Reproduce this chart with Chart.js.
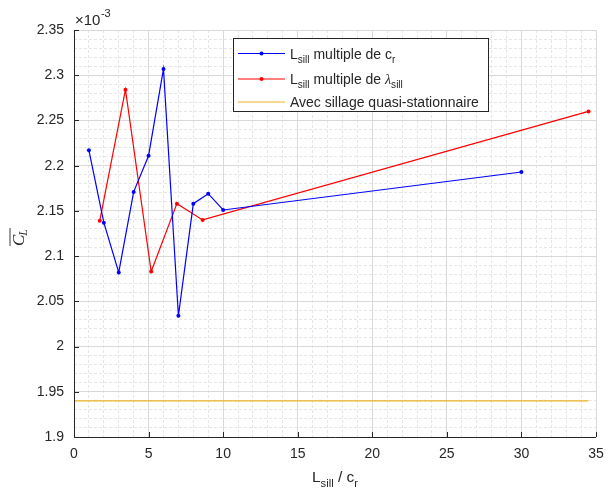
<!DOCTYPE html>
<html>
<head>
<meta charset="utf-8">
<script src="https://cdn.jsdelivr.net/npm/chart.js@4/dist/chart.umd.min.js"></script>
<style>
html,body{margin:0;padding:0;background:#fff;}
#wrap{width:609px;height:497px;position:relative;}
</style>
</head>
<body>
<div id="wrap"><canvas id="c" width="609" height="497"></canvas></div>
<script>
// ---- data (C_L values in units of 1e-3) ----
const xCr = [1, 2, 3, 4, 5, 6, 7, 8, 9, 10, 30];
const clCr = [2.217, 2.137, 2.082, 2.171, 2.211, 2.307, 2.034, 2.158, 2.169, 2.151, 2.193];
const xLambda = [1.725, 3.45, 5.175, 6.9, 8.625, 34.5];
const clLambda = [2.139, 2.284, 2.083, 2.158, 2.140, 2.260];
const xQuasi = [0, 34.5];
const clQuasi = [1.94, 1.94];

const xTicks = [0, 5, 10, 15, 20, 25, 30, 35];
const xTickLabels = ['0', '5', '10', '15', '20', '25', '30', '35'];
const yTicks = [1.9, 1.95, 2.0, 2.05, 2.1, 2.15, 2.2, 2.25, 2.3, 2.35];
const yTickLabels = ['1.9', '1.95', '2', '2.05', '2.1', '2.15', '2.2', '2.25', '2.3', '2.35'];
const xMinorTicks = [...Array(36).keys()];
const yMinorTicks = [...Array(46).keys()].map(i => Math.round((1.9 + i * 0.01) * 1000) / 1000);

const legendLabels = [
  [{t:'L'},{t:'sill',sub:true},{t:' multiple de c'},{t:'r',sub:true}],
  [{t:'L'},{t:'sill',sub:true},{t:' multiple de '},{t:'\u03bb',it:true},{t:'sill',sub:true}],
  [{t:'Avec sillage quasi-stationnaire'}]
];
const xTitle = [{t:'L'},{t:'sill',sub:true},{t:' / c'},{t:'r',sub:true}];

const BLUE = '#0000ff', RED = '#ff0000', ORANGE = '#edb120';
const TXT = '#262626';
const FONT = '"Liberation Sans", Arial, Helvetica, sans-serif';

function toPts(xs, ys){ return xs.map((x,i)=>({x:x, y:ys[i]})); }

function drawRich(ctx, parts, x, y, size, align){
  let w = 0;
  const fonts = parts.map(p=>{
    const s = p.sub ? size*0.72 : size;
    return (p.it ? 'italic ' : '') + s + 'px ' + (p.it ? '"Liberation Serif", "DejaVu Serif", serif' : FONT);
  });
  parts.forEach((p,i)=>{ ctx.font = fonts[i]; w += ctx.measureText(p.t).width; });
  let cx = align === 'center' ? x - w/2 : x;
  ctx.textBaseline = 'alphabetic';
  ctx.textAlign = 'left';
  parts.forEach((p,i)=>{
    ctx.font = fonts[i];
    ctx.fillText(p.t, cx, y + (p.sub ? size*0.32 : 0));
    cx += ctx.measureText(p.t).width;
  });
}

const decor = {
  id:'decor',
  afterDraw(chart){
    const ctx = chart.ctx;
    const xs = chart.scales.x, ys = chart.scales.y;
    const a = chart.chartArea;
    ctx.save();
    // inward ticks
    ctx.strokeStyle = TXT; ctx.lineWidth = 1;
    ctx.beginPath();
    xTicks.forEach(v=>{ const px = Math.round(xs.getPixelForValue(v))+0.5; ctx.moveTo(px, a.bottom); ctx.lineTo(px, a.bottom-5); });
    yTicks.forEach(v=>{ const py = Math.round(ys.getPixelForValue(v))+0.5; ctx.moveTo(a.left, py); ctx.lineTo(a.left+5, py); });
    ctx.stroke();
    // axis lines
    ctx.beginPath();
    ctx.moveTo(a.left+0.5, a.top); ctx.lineTo(a.left+0.5, a.bottom+0.5); ctx.lineTo(a.right, a.bottom+0.5);
    ctx.stroke();

    ctx.fillStyle = TXT;
    // exponent label
    ctx.font = '15px ' + FONT; ctx.textBaseline='alphabetic'; ctx.textAlign='left';
    ctx.fillText('\u00d710', a.left+1, 25);
    const w10 = ctx.measureText('\u00d710').width;
    ctx.font = '11px ' + FONT;
    ctx.fillText('-3', a.left+1+w10+0.5, 17);

    // x title
    drawRich(ctx, xTitle, (a.left+a.right)/2, 482, 15.5, 'center');

    // y title: overline C_L
    ctx.save();
    ctx.translate(24, 236);
    ctx.rotate(-Math.PI/2);
    ctx.font = 'italic 17px "Liberation Serif", "DejaVu Serif", serif';
    ctx.textAlign='left';
    const wc = ctx.measureText('C').width;
    ctx.fillText('C', -10, 0);
    ctx.font = 'italic 12px "Liberation Serif", "DejaVu Serif", serif';
    const wl = ctx.measureText('L').width;
    ctx.fillText('L', -10+wc-1, 3);
    ctx.strokeStyle = TXT; ctx.lineWidth = 0.9;
    ctx.beginPath(); ctx.moveTo(-10, -14); ctx.lineTo(-10+wc-1+wl+1, -14); ctx.stroke();
    ctx.restore();

    // legend
    const L = {x:233.5, y:38.5, w:255, h:73};
    ctx.fillStyle = '#fff'; ctx.fillRect(L.x, L.y, L.w, L.h);
    ctx.strokeStyle = TXT; ctx.lineWidth = 1; ctx.strokeRect(L.x, L.y, L.w, L.h);
    const rows = [53.5, 79, 102];
    const cols = [BLUE, RED, ORANGE];
    rows.forEach((ry,i)=>{
      ctx.strokeStyle = cols[i]; ctx.lineWidth = 1.2;
      ctx.beginPath(); ctx.moveTo(238, ry); ctx.lineTo(285, ry); ctx.stroke();
      if(i<2){ ctx.fillStyle = cols[i]; ctx.beginPath(); ctx.arc(261.5, ry, 2, 0, Math.PI*2); ctx.fill(); }
      ctx.fillStyle = TXT;
      drawRich(ctx, legendLabels[i], 290, ry+5, 14, 'left');
    });
    ctx.restore();
  }
};

const minorGrid = {color:'#e6e6e6', lineWidth:1, drawTicks:false};
function noPad(s){ s.paddingLeft = 0; s.paddingRight = 0; }

new Chart(document.getElementById('c'), {
  type:'scatter',
  data:{
    datasets:[
      {label:'quasi', data:toPts(xQuasi, clQuasi), showLine:true, borderColor:ORANGE, backgroundColor:ORANGE, borderWidth:1.2, pointRadius:0},
      {label:'cr', data:toPts(xCr, clCr), showLine:true, borderColor:BLUE, backgroundColor:BLUE, borderWidth:1.2, pointRadius:2, pointBorderWidth:0},
      {label:'lambda', data:toPts(xLambda, clLambda), showLine:true, borderColor:RED, backgroundColor:RED, borderWidth:1.2, pointRadius:2, pointBorderWidth:0}
    ]
  },
  options:{
    responsive:false, animation:false,
    layout:{padding:{left:0, right:13, top:30, bottom:0}},
    plugins:{legend:{display:false}, tooltip:{enabled:false}},
    scales:{
      xm:{type:'linear', position:'bottom', min:0, max:35,
        afterBuildTicks:s=>{ s.ticks = xMinorTicks.map(v=>({value:v})); },
        ticks:{display:false}, grid:minorGrid, border:{display:false, dash:[3,2]},
        afterFit:s=>{ s.height = 0; noPad(s); }},
      ym:{type:'linear', position:'left', min:1.9, max:2.35,
        afterBuildTicks:s=>{ s.ticks = yMinorTicks.map(v=>({value:v})); },
        ticks:{display:false}, grid:minorGrid, border:{display:false, dash:[3,2]},
        afterFit:s=>{ s.width = 0; }},
      x:{type:'linear', position:'bottom', min:0, max:35,
        afterBuildTicks:s=>{ s.ticks = xTicks.map(v=>({value:v})); },
        ticks:{color:TXT, font:{family:FONT, size:14}, padding:9, maxRotation:0, autoSkip:false,
          callback:(v,i)=>xTickLabels[i]},
        grid:{color:'#d9d9d9', lineWidth:1, drawTicks:false},
        border:{display:false},
        afterFit:s=>{ s.height = 60; noPad(s); }},
      y:{type:'linear', position:'left', min:1.9, max:2.35,
        afterBuildTicks:s=>{ s.ticks = yTicks.map(v=>({value:v})); },
        ticks:{color:TXT, font:{family:FONT, size:14}, padding:10, autoSkip:false,
          callback:(v,i)=>yTickLabels[i]},
        grid:{color:'#d9d9d9', lineWidth:1, drawTicks:false},
        border:{display:false},
        afterFit:s=>{ s.width = 74; s.paddingTop = 0; s.paddingBottom = 0; }}
    }
  },
  plugins:[decor]
});
</script>
</body>
</html>
